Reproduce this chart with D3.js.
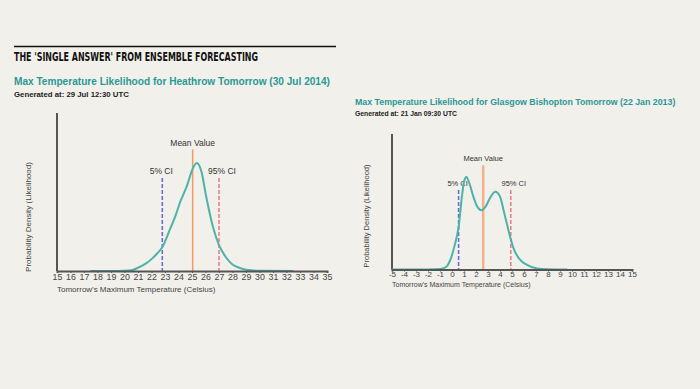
<!DOCTYPE html>
<html>
<head>
<meta charset="utf-8">
<script src="https://cdn.jsdelivr.net/npm/d3@7"></script>
<style>
  body { margin: 0; background: #f2f0ea; }
  svg { display: block; font-family: "Liberation Sans", Arial, sans-serif; }
</style>
</head>
<body>
<svg id="chart" width="700" height="389"></svg>
<script>
// Heathrow, 30 Jul 2014
const heathrowTemps = [17.5, 19, 20, 20.6, 21, 21.6, 22, 22.4, 22.8, 23.35, 23.8, 24.1, 24.6, 25.1, 25.35, 25.7, 26.05, 26.55, 27, 27.5, 28, 28.5, 29, 30, 32.5];
const heathrowDensity = [0, 0, 0.002, 0.01, 0.03, 0.07, 0.11, 0.16, 0.22, 0.38, 0.52, 0.63, 0.78, 0.96, 1.0, 0.92, 0.69, 0.41, 0.24, 0.13, 0.06, 0.03, 0.012, 0.002, 0];
const heathrowMarkers = { mean: 25.05, ci5: 22.8, ci95: 27.0 };

// Glasgow Bishopton, 22 Jan 2013
const glasgowTemps = [-5, -2, -1, -0.7, -0.4, -0.15, 0.2, 0.55, 0.83, 1.0, 1.2, 1.45, 1.8, 2.1, 2.45, 2.8, 3.2, 3.6, 4.0, 4.3, 4.6, 4.85, 5.1, 5.4, 5.8, 6.25, 7.1, 8, 9.6];
const glasgowDensity = [0, 0, 0.005, 0.015, 0.04, 0.1, 0.25, 0.46, 0.79, 0.95, 1.0, 0.93, 0.78, 0.68, 0.64, 0.68, 0.78, 0.84, 0.79, 0.64, 0.48, 0.35, 0.24, 0.155, 0.09, 0.05, 0.01, 0.003, 0];
const glasgowMarkers = { mean: 2.6, ci5: 0.55, ci95: 4.9 };

const heathrowTicks = d3.range(15, 36);
const glasgowTicks = d3.range(-5, 16);

const svg = d3.select("#chart");

// header
svg.append("line")
  .attr("x1", 14).attr("x2", 336).attr("y1", 46.5).attr("y2", 46.5)
  .attr("stroke", "#111").attr("stroke-width", 1.5);
svg.append("text")
  .attr("x", 14).attr("y", 60.5)
  .style("font-family", "'Liberation Sans Narrow', 'DejaVu Sans Condensed', sans-serif")
  .style("font-weight", "bold")
  .style("font-size", "13px")
  .attr("textLength", 244)
  .attr("lengthAdjust", "spacingAndGlyphs")
  .attr("fill", "#111")
  .text("THE 'SINGLE ANSWER' FROM ENSEMBLE FORECASTING");

function drawPanel(opts) {
  const g = svg.append("g");

  g.append("text")
    .attr("x", opts.titleX).attr("y", opts.titleY)
    .attr("fill", "#2a9995")
    .style("font-weight", "bold")
    .style("font-size", opts.titleSize + "px")
    .text(opts.title);
  g.append("text")
    .attr("x", opts.titleX).attr("y", opts.subY)
    .attr("fill", "#222")
    .style("font-weight", "bold")
    .style("font-size", opts.subSize + "px")
    .text(opts.sub);

  const x = d3.scaleLinear().domain(d3.extent(opts.ticks)).range([opts.left, opts.right]);
  const y = d3.scaleLinear().domain([0, 1]).range([opts.base, opts.peakY]);

  // y axis
  g.append("line")
    .attr("x1", opts.left).attr("x2", opts.left)
    .attr("y1", opts.top).attr("y2", opts.base)
    .attr("stroke", "#555").attr("stroke-width", 2);

  g.append("text")
    .attr("transform", `translate(${opts.ylabX},${opts.ylabY}) rotate(-90)`)
    .attr("text-anchor", "middle")
    .attr("fill", "#444")
    .style("font-size", opts.ylabSize + "px")
    .text("Probability Density (Likelihood)");

  // marker lines
  const m = opts.markers;
  g.append("line")
    .attr("x1", x(m.mean)).attr("x2", x(m.mean))
    .attr("y1", y(1.125)).attr("y2", opts.base)
    .attr("stroke", opts.meanColor).attr("stroke-width", opts.meanWidth);
  g.append("line")
    .attr("x1", x(m.ci5)).attr("x2", x(m.ci5))
    .attr("y1", y(0.86)).attr("y2", opts.base)
    .attr("stroke", "#6b6bd9").attr("stroke-width", 1.6)
    .attr("stroke-dasharray", "4,2");
  g.append("line")
    .attr("x1", x(m.ci95)).attr("x2", x(m.ci95))
    .attr("y1", y(0.86)).attr("y2", opts.base)
    .attr("stroke", "#f26d7d").attr("stroke-width", 1.4)
    .attr("stroke-dasharray", "4,2");

  const lab = g.append("g")
    .attr("fill", "#333")
    .attr("text-anchor", "middle")
    .style("font-size", opts.markSize + "px");
  lab.append("text").attr("x", x(m.mean)).attr("y", y(1.125) - 4).text("Mean Value");
  lab.append("text").attr("x", x(m.ci5) - 1).attr("y", y(0.86) - 4).text("5% CI");
  lab.append("text").attr("x", x(m.ci95) + 3).attr("y", y(0.86) - 4).text("95% CI");

  // density curve
  const pts = opts.temps.map((t, i) => [t, opts.density[i]]);
  const line = d3.line()
    .x((d) => x(d[0]))
    .y((d) => y(d[1]))
    .curve(d3.curveMonotoneX);
  g.append("path")
    .datum(pts)
    .attr("d", line)
    .attr("fill", "none")
    .attr("stroke", "#4db3a9")
    .attr("stroke-width", 2);

  // x axis
  const axis = g.append("g")
    .attr("transform", `translate(0,${opts.base})`)
    .call(d3.axisBottom(x).tickValues(opts.ticks).tickSize(2).tickFormat((d) => String(d)));
  axis.select(".domain").attr("stroke", "#555").attr("stroke-width", 2);
  axis.selectAll(".tick line").attr("stroke", "#555");
  axis.selectAll(".tick text")
    .attr("y", opts.tickY)
    .attr("fill", "#444")
    .style("font-family", "'Liberation Sans', Arial, sans-serif")
    .style("font-size", opts.tickSize + "px");

  g.append("text")
    .attr("x", opts.left).attr("y", opts.xlabY)
    .attr("fill", "#444")
    .style("font-size", opts.xlabSize + "px")
    .text("Tomorrow's Maximum Temperature (Celsius)");
}

drawPanel({
  title: "Max Temperature Likelihood for Heathrow Tomorrow (30 Jul 2014)",
  sub: "Generated at: 29 Jul 12:30 UTC",
  titleX: 14, titleY: 85, subY: 97, titleSize: 10.1, subSize: 7.8,
  temps: heathrowTemps, density: heathrowDensity, markers: heathrowMarkers,
  ticks: heathrowTicks,
  left: 57, right: 327, top: 113, base: 271, peakY: 163,
  ylabX: 31, ylabY: 217,
  xlabY: 292, ylabSize: 8, xlabSize: 8, markSize: 8.5, tickSize: 8.8, tickY: 2.5,
  meanColor: "#f39a63", meanWidth: 1.5
});

drawPanel({
  title: "Max Temperature Likelihood for Glasgow Bishopton Tomorrow (22 Jan 2013)",
  sub: "Generated at: 21 Jan 09:30 UTC",
  titleX: 355, titleY: 105, subY: 116, titleSize: 8.8, subSize: 6.8,
  temps: glasgowTemps, density: glasgowDensity, markers: glasgowMarkers,
  ticks: glasgowTicks,
  left: 392, right: 632, top: 134, base: 269.5, peakY: 177,
  ylabX: 369, ylabY: 216,
  xlabY: 287, ylabSize: 7.5, xlabSize: 7, markSize: 7.5, tickSize: 8, tickY: 1.5,
  meanColor: "#f2b08d", meanWidth: 2.5
});
</script>
</body>
</html>
